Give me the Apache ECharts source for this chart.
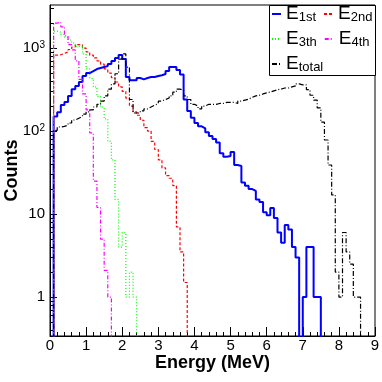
<!DOCTYPE html>
<html>
<head>
<meta charset="utf-8">
<script src="https://cdn.jsdelivr.net/npm/echarts@6/dist/echarts.min.js"></script>
<style>
html, body { margin: 0; padding: 0; background: #fff; }
#chart { width: 382px; height: 382px; }
</style>
</head>
<body>
<div id="chart"></div>
<script>
// histogram bins are 0.1 MeV wide, starting at 0
const BIN = 0.1

const eFirst = [
  0, 150, 169, 206, 224, 264, 320, 348, 389, 460,
  500, 528, 558, 574, 590, 606, 642, 697, 758, 824,
  736, 447, 410, 410, 435, 420, 435, 447, 447, 460,
  470, 487, 528, 590, 590, 545, 480, 240, 175, 145,
  125, 114, 108, 97, 87, 80, 73, 54, 49, 50,
  56, 39, 38, 24, 22, 20, 19, 15, 14, 10.5,
  9.7, 11.8, 9, 6, 4.5, 7.4, 6.5, 4, 3, 0,
  1, 4, 4, 1, 1, 0
]
const eSecond = [
  0, 820, 830, 860, 900, 960, 1030, 1100, 1090, 1000,
  900, 820, 760, 700, 640, 560, 500, 440, 390, 340,
  300, 250, 200, 170, 155, 135, 110, 100, 75, 60,
  45, 36, 29, 27, 22, 7, 3.5, 1.5, 0
]
const eThird = [
  0, 1600, 1550, 1450, 1350, 1250, 1150, 1050, 1050, 850,
  560, 430, 340, 260, 195, 140, 75, 45, 15, 4,
  6, 1, 2, 1, 0
]
const eFourth = [
  0, 2000, 2050, 1800, 1400, 1100, 950, 700, 420, 280,
  180, 95, 25, 12, 5, 2.1, 1, 0
]
const eTotal = [
  0, 102, 112, 114, 118, 125, 136, 143, 150, 160,
  170, 180, 195, 210, 230, 265, 320, 370, 490, 736,
  850, 590, 240, 165, 165, 175, 185, 195, 205, 215,
  230, 240, 250, 265, 295, 320, 310, 265, 240, 210,
  200, 185, 200, 210, 210, 210, 215, 215, 222, 222,
  222, 215, 230, 236, 242, 255, 265, 270, 280, 288,
  295, 305, 315, 320, 330, 330, 340, 350, 370, 360,
  360, 315, 270, 236, 190, 128, 78, 39, 17, 2,
  1, 6, 3.5, 2.5, 1, 1, 0
]

const yMajor = [1, 10, 100, 1000]
const yMinor = [0.4, 0.5, 0.6, 0.7, 0.8, 0.9, 2, 3, 4, 5, 6, 7, 8, 9,
  20, 30, 40, 50, 60, 70, 80, 90, 200, 300, 400, 500, 600, 700, 800, 900, 2000, 3000]

// empty bins sit below the log axis and get clipped
const FLOOR = 0.05
const FONT = '"Liberation Sans", Arial, Helvetica, sans-serif'

const toSteps = vals => {
  const pts = vals.map((v, i) => [+(i * BIN).toFixed(2), v > 0 ? v : FLOOR])
  pts.push([+(vals.length * BIN).toFixed(2), pts[pts.length - 1][1]])
  return pts
}

const histos = [
  { name: 'E_1st', sub: '1st', data: eFirst, color: '#0000ff', width: 2, type: 'solid' },
  { name: 'E_2nd', sub: '2nd', data: eSecond, color: '#ff0000', width: 1.2, type: [3, 2] },
  { name: 'E_3th', sub: '3th', data: eThird, color: '#00ff00', width: 1.2, type: [1, 2] },
  { name: 'E_4th', sub: '4th', data: eFourth, color: '#ff00ff', width: 1.2, type: [4, 2, 1, 2] },
  { name: 'E_total', sub: 'total', data: eTotal, color: '#000000', width: 1.2, type: [5, 2, 1, 2] },
]

const legendRich = {
  e: { fontSize: 19, lineHeight: 20, verticalAlign: 'top', color: '#000', fontFamily: FONT },
  s: { fontSize: 13, lineHeight: 13, padding: [10, 0, 0, 0], verticalAlign: 'bottom', color: '#000', fontFamily: FONT },
}
const makeLegend = (names, top, gap) => ({
  left: 271,
  top: top,
  padding: 0,
  itemGap: gap,
  itemWidth: 9,
  itemHeight: 8,
  itemStyle: { opacity: 0 },
  z: 5,
  selectedMode: false,
  data: names,
  formatter: name => {
    const h = histos.find(d => d.name === name)
    return '{e|E}{s|' + h.sub + '}'
  },
  textStyle: { rich: legendRich },
})

const yAxisBase = {
  type: 'log',
  logBase: 10,
  min: 0.34,
  max: 3300,
  position: 'left',
  splitLine: { show: false },
}

const chart = echarts.init(document.getElementById('chart'))

chart.setOption({
  animation: false,
  backgroundColor: '#fff',
  textStyle: { fontFamily: FONT },
  grid: {
    left: 50, right: 7, top: 5, bottom: 46,
    outerBoundsMode: 'none',
    containLabel: false,
    show: true, borderColor: '#000', borderWidth: 1,
  },
  graphic: [{
    type: 'rect',
    z: 4,
    shape: { x: 269.5, y: 5.5, width: 106, height: 70 },
    style: { fill: '#fff', stroke: '#000', lineWidth: 1 },
  }],
  legend: [
    makeLegend(['E_1st', 'E_2nd'], 1, 7),
    makeLegend(['E_3th', 'E_4th'], 26, 7),
    makeLegend(['E_total'], 51, 7),
  ],
  xAxis: {
    type: 'value',
    min: 0,
    max: 9,
    interval: 1,
    axisLine: { onZero: false, lineStyle: { color: '#000', width: 1 } },
    axisTick: { inside: true, length: 9, lineStyle: { color: '#000' } },
    minorTick: { show: true, splitNumber: 5, length: 4, lineStyle: { color: '#000' } },
    axisLabel: { fontSize: 15, color: '#000', margin: 2, fontFamily: FONT },
    splitLine: { show: false },
    name: 'Energy (MeV)',
    nameLocation: 'middle',
    nameGap: 18,
    nameMoveOverlap: false,
    nameTextStyle: { fontSize: 18, fontWeight: 'bold', color: '#000', fontFamily: FONT },
  },
  yAxis: [
    Object.assign({}, yAxisBase, {
      axisLine: { show: true, lineStyle: { color: '#000', width: 1 } },
      axisTick: { show: true, inside: true, length: 7, customValues: yMajor, lineStyle: { color: '#000' } },
      axisLabel: {
        customValues: yMajor,
        fontSize: 15,
        color: '#000',
        margin: 5,
        fontFamily: FONT,
        formatter: v => {
          const p = Math.round(Math.log10(v))
          if (p === 0) return '1'
          if (p === 1) return '10'
          return '10{sup|' + p + '}'
        },
        rich: { sup: { fontSize: 10, lineHeight: 10, verticalAlign: 'top', color: '#000', fontFamily: FONT } },
      },
      name: 'Counts',
      nameLocation: 'middle',
      nameGap: 29,
      nameMoveOverlap: false,
      nameTextStyle: { fontSize: 18, fontWeight: 'bold', color: '#000', fontFamily: FONT },
    }),
    Object.assign({}, yAxisBase, {
      axisLine: { show: false },
      axisTick: { show: true, inside: true, length: 4, customValues: yMinor, lineStyle: { color: '#000' } },
      axisLabel: { show: false },
    }),
  ],
  series: histos.map(h => ({
    name: h.name,
    type: 'line',
    step: 'end',
    yAxisIndex: 0,
    showSymbol: false,
    symbol: 'none',
    clip: true,
    data: toSteps(h.data),
    color: h.color,
    lineStyle: { color: h.color, width: h.width, type: h.type },
  })),
})
</script>
</body>
</html>
